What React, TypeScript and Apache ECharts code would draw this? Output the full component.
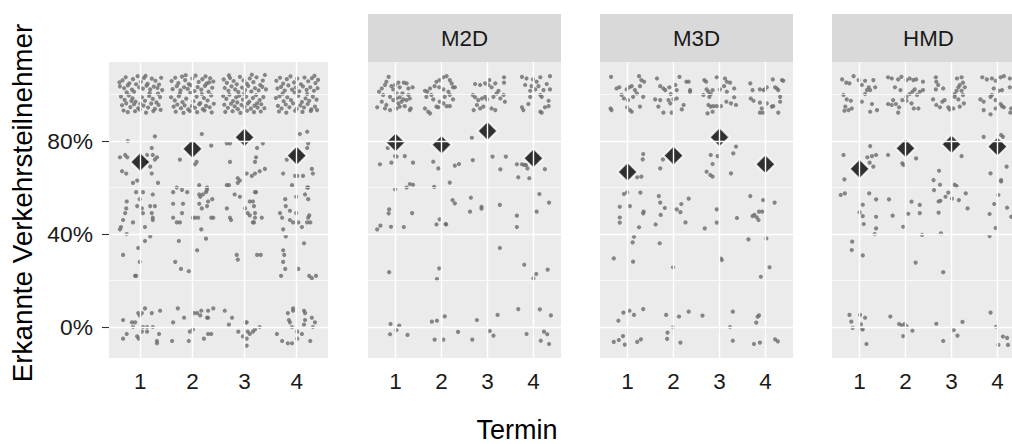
import React, { useEffect, useRef } from "react";
import * as echarts from "echarts";

// ---------- data ----------
const panelNames = ["", "M2D", "M3D", "HMD"];
const termTicks = [1, 2, 3, 4];
const yTickValues = [0, 0.4, 0.8];
const yMinorValues = [0.2, 0.6, 1.0];
const xTitle = "Termin";
const yTitle = "Erkannte Verkehrsteilnehmer";

const meansNone = [[1, 0.71], [2, 0.766], [3, 0.816], [4, 0.737]];
const meansM2D = [[1, 0.794], [2, 0.784], [3, 0.843], [4, 0.726]];
const meansM3D = [[1, 0.667], [2, 0.737], [3, 0.816], [4, 0.7]];
const meansHMD = [[1, 0.68], [2, 0.769], [3, 0.786], [4, 0.776]];

const topNone = [
  [0.66,1.061],[0.72,1.074],[0.79,1.048],[0.86,1.066],[0.95,1.079],[1.01,1.055],[1.07,1.071],[1.14,1.046],[1.22,1.068],[1.29,1.059],[1.36,1.043],[1.40,1.072],
  [0.61,1.035],[0.69,1.027],[0.76,1.039],[0.84,1.021],[0.92,1.044],[0.98,1.031],[1.05,1.025],[1.12,1.038],[1.19,1.022],[1.26,1.034],[1.33,1.028],[1.42,1.019],
  [0.63,0.991],[0.70,0.977],[0.78,0.996],[0.85,0.984],[0.91,0.969],[1.03,0.988],[1.09,0.973],[1.17,0.994],[1.24,0.981],[1.31,0.966],[1.38,0.989],
  [0.65,0.954],[0.73,0.962],[0.81,0.946],[0.88,0.958],[0.96,0.941],[1.06,0.952],[1.15,0.944],[1.21,0.961],[1.28,0.938],[1.35,0.955],
  [0.68,0.931],[0.76,0.924],[0.90,0.928],[0.99,0.935],[1.11,0.922],[1.25,0.929],[1.39,0.934],
  [0.74,1.009],[0.88,1.012],[1.18,1.006],[1.34,1.004],[0.60,1.052],[1.10,1.080],[0.83,0.972],[1.00,0.960],
  [1.60,1.058],[1.67,1.072],[1.73,1.049],[1.80,1.077],[1.86,1.062],[1.93,1.045],[2.00,1.069],[2.06,1.081],[2.12,1.054],[2.19,1.066],[2.27,1.047],[2.34,1.070],[2.40,1.056],
  [1.62,1.023],[1.70,1.036],[1.77,1.018],[1.84,1.031],[1.91,1.024],[1.97,1.040],[2.04,1.015],[2.10,1.032],[2.17,1.021],[2.24,1.037],[2.31,1.012],[2.38,1.029],
  [1.59,0.988],[1.66,0.975],[1.74,0.993],[1.81,0.967],[1.88,0.982],[2.02,0.971],[2.08,0.991],[2.15,0.963],[2.22,0.985],[2.29,0.974],[2.36,0.996],
  [1.64,0.948],[1.71,0.957],[1.78,0.941],[1.85,0.953],[1.92,0.936],[1.99,0.950],[2.05,0.943],[2.13,0.958],[2.20,0.937],[2.26,0.951],[2.33,0.945],[2.41,0.960],
  [1.68,0.926],[1.83,0.921],[1.95,0.929],[2.09,0.924],[2.23,0.932],[2.37,0.923],
  [1.76,1.004],[1.96,1.007],[2.18,1.002],[2.32,1.052],[1.87,1.083],[2.25,1.078],
  [2.60,1.065],[2.66,1.050],[2.72,1.071],[2.79,1.058],[2.85,1.044],[2.91,1.076],[2.98,1.061],[3.04,1.047],[3.10,1.069],[3.17,1.053],[3.23,1.074],[3.30,1.041],[3.39,1.084],
  [2.62,1.028],[2.69,1.016],[2.75,1.035],[2.82,1.022],[2.88,1.011],[2.95,1.030],[3.01,1.019],[3.07,1.037],[3.13,1.013],[3.20,1.027],[3.27,1.018],[3.34,1.033],[3.41,1.022],
  [2.59,0.994],[2.65,0.981],[2.71,0.999],[2.78,0.972],[2.84,0.988],[2.90,0.995],[2.97,0.978],[3.03,0.991],[3.09,0.969],[3.16,0.985],[3.22,0.997],[3.29,0.976],[3.36,0.989],
  [2.61,0.956],[2.68,0.943],[2.74,0.960],[2.81,0.949],[2.87,0.937],[2.94,0.955],[3.00,0.946],[3.06,0.961],[3.12,0.939],[3.19,0.952],[3.25,0.944],[3.32,0.958],[3.38,0.941],
  [2.63,0.925],[2.77,0.928],[2.92,0.921],[3.05,0.930],[3.18,0.924],[3.31,0.927],
  [2.70,1.082],[3.14,1.085],[2.99,1.003],[3.24,0.962],[2.86,0.966],[3.35,1.060],
  [3.61,1.059],[3.68,1.072],[3.74,1.047],[3.81,1.066],[3.88,1.078],[3.95,1.052],[4.01,1.068],[4.08,1.044],[4.15,1.073],[4.22,1.057],[4.29,1.070],[4.36,1.049],[4.41,1.063],
  [3.63,1.026],[3.70,1.033],[3.77,1.017],[3.84,1.039],[3.91,1.021],[3.98,1.030],[4.05,1.014],[4.12,1.035],[4.19,1.020],[4.26,1.031],[4.33,1.016],[4.40,1.027],
  [3.60,0.985],[3.67,0.993],[3.75,0.971],[3.82,0.988],[3.89,0.976],[4.03,0.994],[4.10,0.968],[4.17,0.983],[4.24,0.973],[4.31,0.991],[4.38,0.978],
  [3.64,0.951],[3.71,0.940],[3.79,0.957],[3.86,0.945],[3.93,0.962],[4.00,0.938],[4.07,0.953],[4.14,0.944],[4.21,0.959],[4.28,0.936],[4.35,0.948],
  [3.66,0.927],[3.80,0.922],[3.97,0.930],[4.11,0.925],[4.27,0.929],[4.39,0.933],
  [3.73,1.004],[3.96,1.008],[4.20,1.002],[4.34,1.080],
];

const restNone = [
  [0.76,0.80],[1.28,0.82],[1.22,0.77],[0.61,0.73],[0.71,0.74],[0.75,0.73],[1.13,0.74],[1.24,0.74],[1.32,0.73],[1.28,0.72],[1.15,0.71],[1.19,0.69],[0.65,0.67],[0.73,0.66],[1.22,0.66],
  [0.86,0.62],[0.94,0.63],[1.34,0.62],[0.92,0.58],[1.05,0.58],[1.24,0.57],[0.74,0.54],[0.73,0.51],[0.71,0.49],[0.94,0.52],[1.03,0.51],[1.05,0.49],[1.19,0.52],[1.28,0.52],[1.22,0.49],[1.24,0.47],[1.24,0.46],[0.99,0.55],[0.67,0.46],[0.61,0.42],[0.63,0.43],[0.86,0.45],[0.74,0.40],[1.09,0.43],[1.09,0.37],[1.19,0.39],[0.96,0.34],[0.67,0.31],[0.99,0.28],[0.90,0.22],[0.92,0.22],
  [0.67,0.03],[0.96,0.06],[0.99,0.05],[1.03,0.06],[0.84,0.02],[0.86,0.00],[1.09,0.08],[1.22,0.06],[1.05,0.00],[1.13,0.00],[1.24,0.00],[1.38,0.07],[0.67,-0.05],[0.74,-0.03],[0.94,-0.04],[0.97,-0.05],[1.03,-0.02],[1.13,-0.02],[1.32,-0.06],[1.32,-0.07],[1.36,-0.03],[0.90,0.02],
  [2.18,0.83],[2.36,0.78],[1.76,0.72],[2.08,0.71],[2.05,0.70],
  [1.63,0.58],[1.70,0.60],[1.80,0.59],[1.90,0.58],[2.13,0.61],[2.15,0.56],[2.13,0.57],[2.20,0.57],[2.28,0.59],[2.26,0.58],[2.28,0.60],[2.38,0.55],[1.63,0.53],[1.82,0.53],[2.13,0.53],[2.18,0.51],[2.30,0.54],[2.28,0.52],[1.80,0.49],[1.63,0.47],[1.70,0.45],[1.76,0.45],[2.01,0.47],[2.05,0.47],[2.11,0.47],[2.36,0.47],[2.40,0.47],[2.17,0.42],[2.26,0.38],[1.74,0.37],[2.09,0.33],[1.67,0.28],[1.78,0.25],[1.93,0.24],
  [1.72,0.08],[1.63,0.02],[1.84,0.04],[2.03,0.06],[2.09,0.06],[2.15,0.05],[2.17,0.07],[2.30,0.07],[2.40,0.08],[2.28,0.04],[2.30,0.04],[2.01,-0.01],[1.95,-0.02],[1.61,-0.06],[1.93,-0.06],[2.22,-0.05],[2.30,-0.03],[2.36,-0.03],
  [2.66,0.79],[2.72,0.79],[2.72,0.71],[3.24,0.77],[3.35,0.79],[3.22,0.73],[3.20,0.71],[3.04,0.66],[3.14,0.65],[3.20,0.66],[3.29,0.67],[3.39,0.68],[2.87,0.64],
  [2.66,0.61],[2.70,0.61],[2.87,0.62],[2.91,0.63],[2.81,0.57],[2.91,0.56],[2.66,0.51],[2.72,0.47],[2.74,0.46],[3.01,0.51],[3.06,0.49],[3.10,0.48],[3.10,0.54],[3.16,0.54],[3.20,0.58],[3.22,0.58],[3.18,0.52],[3.20,0.49],[3.20,0.47],[3.18,0.45],[3.16,0.45],[3.33,0.47],[2.85,0.31],[2.87,0.29],[3.24,0.31],[3.31,0.31],
  [2.62,0.07],[2.76,0.04],[2.70,0.01],[3.02,0.02],[3.04,0.02],[2.88,-0.02],[3.06,-0.02],[3.10,-0.03],[3.16,-0.02],[3.20,-0.01],[3.29,0.00],[2.97,-0.04],[3.04,-0.05],[3.04,-0.08],
  [4.06,0.83],[4.20,0.84],[4.20,0.77],[4.22,0.79],[3.81,0.72],[3.74,0.66],[3.97,0.65],[4.01,0.65],[4.29,0.68],[4.12,0.65],[4.31,0.66],
  [3.91,0.61],[4.20,0.60],[4.22,0.60],[3.78,0.55],[3.79,0.52],[3.99,0.56],[4.16,0.57],[4.22,0.55],[3.68,0.49],[3.87,0.50],[3.99,0.49],[3.72,0.47],[3.87,0.46],[3.93,0.45],[4.24,0.48],[4.22,0.47],[4.20,0.45],[4.26,0.45],[4.03,0.45],[4.10,0.43],[3.74,0.42],[3.79,0.39],[4.14,0.36],[3.74,0.33],[3.76,0.31],[3.74,0.28],[3.78,0.25],[3.70,0.22],[4.03,0.25],[4.24,0.22],[4.29,0.21],[4.37,0.22],
  [3.83,0.06],[3.93,0.08],[3.93,0.07],[3.85,0.03],[3.87,0.02],[4.14,0.07],[4.16,0.06],[4.16,0.03],[4.14,0.01],[4.29,0.04],[4.35,0.02],[4.31,0.00],[3.91,0.00],[4.01,-0.02],[4.10,-0.03],[3.62,-0.03],[3.72,-0.06],[3.83,-0.07],[3.91,-0.07],[4.01,-0.05],[4.26,-0.06],
];

const topM2D = [
  [0.85,1.076],[0.80,1.055],[0.77,1.041],[0.70,1.026],[0.64,1.012],[0.91,1.036],[0.99,1.041],[1.06,1.051],[1.09,1.031],[1.18,1.051],[1.24,1.048],[1.28,1.026],[1.37,1.031],
  [0.73,0.998],[0.88,0.990],[0.95,0.976],[1.02,0.983],[1.09,0.988],[1.17,0.979],[1.13,0.969],[1.06,0.962],[1.28,0.998],[1.31,0.983],[1.24,0.976],[0.70,0.969],[0.80,0.955],
  [0.60,0.945],[0.77,0.940],[0.88,0.933],[1.02,0.940],[1.09,0.948],[1.20,0.950],[1.31,0.933],[1.33,0.940],[0.95,1.022],[1.02,1.005],[1.15,1.005],
  [1.64,1.016],[1.69,1.012],[1.75,1.026],[1.85,1.036],[1.89,1.055],[1.96,1.062],[2.04,1.074],[2.11,1.079],[2.18,1.062],[2.22,1.048],[2.29,1.031],[1.95,1.031],[2.04,1.022],[2.15,1.012],
  [1.67,0.990],[1.78,0.998],[2.07,0.990],[2.18,0.998],[2.25,0.979],[1.96,0.969],[2.04,0.962],[2.11,0.950],[1.93,0.945],[1.89,0.948],[1.71,0.926],[1.75,0.919],[1.64,0.940],[2.18,0.950],[2.25,1.031],[1.82,0.979],
  [2.73,1.045],[2.84,1.041],[2.95,1.048],[3.02,1.041],[3.09,1.031],[3.17,1.048],[3.24,1.016],[3.36,1.074],[3.36,1.051],[2.68,0.998],[2.73,0.988],[2.80,0.976],[2.88,0.983],[2.95,0.990],
  [2.99,0.979],[3.13,0.990],[3.20,1.005],[3.35,0.998],[3.38,0.969],[2.77,0.955],[2.84,0.940],[2.70,0.933],[2.91,0.948],[3.09,0.940],[3.17,0.933],[3.28,0.983],[3.04,1.062],
  [3.75,1.076],[3.85,1.069],[3.99,1.065],[4.07,1.055],[4.15,1.074],[4.36,1.079],[3.82,1.041],[3.96,1.036],[4.11,1.036],[4.22,1.019],[4.29,1.045],[4.36,1.022],[3.93,1.016],
  [4.04,1.022],[3.93,0.990],[4.15,0.998],[4.18,0.990],[4.33,0.973],[3.75,0.945],[3.78,0.933],[3.89,0.959],[4.15,0.926],[4.18,0.922],[4.25,0.945],[4.33,0.950],
];

const restM2D = [
  [0.99,0.735],[1.02,0.733],[1.20,0.735],[0.66,0.70],[0.91,0.707],[1.38,0.707],[0.83,0.77],
  [1.82,0.711],[1.93,0.682],[2.29,0.694],[2.38,0.701],
  [2.66,0.814],[2.68,0.718],[3.11,0.733],[3.28,0.678],[3.40,0.733],
  [3.64,0.70],[3.75,0.70],[3.80,0.697],[3.84,0.697],[3.87,0.682],[3.67,0.644],[3.91,0.64],[4.25,0.679],
  [0.99,0.592],[1.24,0.60],[1.31,0.615],[1.38,0.612],[0.86,0.506],[0.85,0.489],[1.36,0.49],[0.60,0.42],[0.67,0.436],[0.90,0.431],[1.18,0.43],[0.86,0.236],
  [0.89,0.013],[1.08,0.006],[0.88,-0.031],[1.02,-0.013],[1.26,-0.034],
  [1.84,0.603],[2.18,0.621],[2.24,0.546],[2.29,0.532],[1.89,0.441],[1.96,0.463],[2.09,0.443],[2.10,0.441],[1.95,0.252],[1.90,0.206],
  [1.79,0.023],[1.90,0.027],[2.07,0.046],[2.36,-0.021],[1.85,-0.054],[2.04,-0.054],
  [2.64,0.556],[2.62,0.496],[2.87,0.517],[2.87,0.509],[3.27,0.525],[3.27,0.340],
  [2.77,0.030],[2.67,-0.054],[3.05,-0.017],[3.13,-0.037],[3.22,0.052],
  [4.13,0.572],[4.34,0.535],[3.64,0.479],[3.64,0.43],[4.07,0.496],[3.80,0.268],[4.06,0.228],[4.0,0.209],[4.31,0.247],
  [3.67,0.077],[4.14,0.076],[4.38,0.05],[3.85,-0.03],[4.23,-0.02],[4.30,-0.031],[4.16,-0.059],[4.34,-0.073],
];

const topM3D = [
  [0.64,1.076],[0.76,1.026],[0.82,1.031],[0.98,1.022],[1.04,1.031],[1.09,1.036],[1.16,1.019],[1.25,1.079],[1.30,1.062],[1.36,1.055],[1.27,1.036],[0.87,0.998],
  [0.92,0.983],[1.01,0.976],[1.12,0.990],[1.20,1.005],[1.34,0.990],[0.63,0.940],[0.65,0.933],[0.99,0.945],[1.05,0.933],[1.09,0.926],[1.27,0.948],
  [1.64,1.069],[1.71,1.036],[1.78,1.026],[1.82,1.019],[1.91,1.031],[1.94,1.002],[2.04,1.041],[2.13,1.076],[2.28,1.055],[2.33,1.055],[2.36,1.019],[1.60,0.979],
  [1.71,0.976],[1.67,0.948],[1.89,0.976],[2.00,0.979],[2.07,0.983],[2.18,0.936],[2.22,0.955],[1.78,0.922],[1.96,0.922],[1.93,0.962],[2.36,1.012],[2.07,1.019],
  [2.67,1.062],[2.71,1.055],[2.94,1.074],[3.12,1.069],[3.16,1.055],[3.23,1.051],[3.10,1.036],[2.72,1.022],[2.76,1.012],[2.78,0.990],[2.81,1.002],[2.85,1.019],
  [3.01,1.022],[3.16,1.012],[3.32,1.026],[2.65,0.998],[2.76,0.955],[2.81,0.948],[2.87,0.950],[2.94,0.950],[3.03,0.950],[3.15,0.969],[3.25,0.962],[3.32,0.988],
  [3.36,0.955],[2.74,0.919],[2.85,0.926],
  [3.67,1.048],[3.72,1.019],[3.88,1.022],[3.96,1.019],[3.99,1.022],[4.03,1.031],[4.16,1.065],[4.25,1.026],[4.28,1.019],[4.36,1.062],[4.39,1.059],[3.68,0.983],
  [3.74,0.973],[3.88,0.965],[4.03,0.962],[4.14,0.948],[4.17,0.950],[4.32,0.990],[4.32,0.969],[3.92,0.940],[3.88,0.922],[3.94,0.922],[4.28,0.922],[4.21,1.031],
];

const restM3D = [
  [1.34,0.744],[1.33,0.721],[1.21,0.644],[1.30,0.647],[1.77,0.721],[1.71,0.682],[2.81,0.740],[2.96,0.735],[2.85,0.701],[2.72,0.668],[2.80,0.654],[2.85,0.647],[3.36,0.776],[3.30,0.747],[3.25,0.661],
  [0.92,0.572],[0.99,0.579],[1.28,0.578],[0.83,0.517],[1.05,0.520],[0.83,0.471],[0.83,0.449],[1.25,0.429],[1.34,0.489],[1.35,0.496],[1.14,0.388],[1.11,0.364],[0.70,0.295],[1.12,0.281],
  [0.80,0.027],[0.91,0.062],[1.04,0.070],[1.14,0.052],[1.34,0.077],[0.70,-0.064],[0.81,-0.056],[0.90,-0.039],[0.94,-0.076],[1.21,-0.064],[1.29,-0.053],
  [1.68,0.563],[1.71,0.535],[1.72,0.482],[1.81,0.512],[1.61,0.441],[1.70,0.360],[2.07,0.506],[2.15,0.494],[2.17,0.529],[2.33,0.552],[2.26,0.450],[2.68,0.424],[1.99,0.257],
  [1.84,0.052],[2.12,0.045],[2.33,0.066],[2.63,0.049],[1.99,-0.001],[1.87,-0.024],[1.86,-0.051],[2.15,-0.067],
  [2.94,0.506],[2.94,0.449],[3.03,0.294],[3.05,0.288],[3.38,0.469],
  [3.29,0.066],[3.23,0.0],[3.29,-0.059],
  [3.67,0.563],[3.95,0.546],[4.20,0.535],[3.72,0.477],[3.76,0.482],[3.81,0.472],[3.85,0.46],[3.86,0.496],[3.93,0.496],[3.63,0.377],[4.02,0.381],[4.09,0.257],[3.90,0.216],
  [3.80,0.019],[3.83,0.044],[3.86,0.05],[3.75,-0.073],[3.88,-0.067],[4.21,-0.053],[4.27,-0.062],
];

const topHMD = [
  [0.62,1.065],[0.71,1.051],[0.78,1.048],[0.87,1.079],[0.98,1.062],[1.05,1.041],[1.12,1.059],[1.20,1.031],[1.23,1.019],[1.30,1.062],[1.34,1.031],[0.65,0.998],
  [0.72,0.979],[0.81,0.973],[1.05,0.969],[1.27,0.959],[1.38,0.933],[0.69,0.948],[0.76,0.933],[0.83,0.940],[0.67,0.930],[1.16,1.019],[1.12,1.002],[1.23,0.926],
  [1.62,1.074],[1.70,1.069],[1.84,1.065],[1.91,1.076],[2.02,1.062],[2.09,1.069],[2.17,1.062],[2.23,1.065],[2.38,1.055],[1.77,1.031],[1.89,1.019],[2.02,0.990],
  [2.09,1.002],[2.15,1.012],[2.20,1.022],[2.25,0.998],[2.31,1.012],[2.38,1.019],[1.93,0.976],[2.02,0.973],[2.13,0.962],[2.18,0.940],[2.28,0.940],[1.62,0.959],
  [1.70,0.955],[1.79,0.959],[1.86,0.945],[1.84,0.922],[1.73,0.976],
  [2.66,1.074],[2.67,1.055],[2.71,1.041],[2.66,1.022],[2.82,1.026],[3.12,1.069],[3.22,1.074],[3.25,1.051],[3.18,1.041],[3.15,1.031],[3.11,1.016],[3.29,1.031],
  [3.22,1.016],[3.07,1.002],[2.60,0.979],[2.67,0.955],[2.75,0.945],[2.80,0.969],[2.85,0.976],[2.93,0.945],[2.96,0.936],[3.07,0.990],[3.15,0.979],[3.25,0.998],
  [3.27,0.962],[3.18,0.948],[3.04,0.940],
  [3.67,1.074],[3.77,1.065],[3.88,1.069],[3.96,1.059],[4.07,1.074],[4.14,1.079],[4.27,1.069],[3.92,1.026],[4.03,1.016],[4.10,1.019],[3.85,0.990],[3.88,0.998],
  [3.63,0.979],[3.70,0.969],[3.96,0.976],[4.10,0.950],[4.14,0.945],[4.07,0.959],[3.96,0.940],[3.70,0.933],[3.85,0.915],[4.28,0.922],[4.30,0.940],[4.27,1.031],
];

const restHMD = [
  [0.65,0.740],[1.23,0.778],[1.17,0.730],[1.27,0.735],[1.36,0.740],[1.22,0.707],[1.30,0.690],[0.67,0.635],[1.62,0.740],[1.93,0.704],[1.96,0.697],[2.23,0.725],
  [2.73,0.672],[2.61,0.632],[3.22,0.735],[3.70,0.818],[4.08,0.826],[4.12,0.818],[4.20,0.690],[3.85,0.661],[4.08,0.632],
  [0.59,0.568],[0.68,0.575],[1.21,0.575],[1.07,0.526],[1.0,0.493],[1.07,0.477],[1.09,0.443],[1.36,0.549],[1.36,0.474],[1.36,0.424],[1.33,0.40],[0.84,0.367],[0.83,0.331],[1.07,0.308],
  [0.78,0.052],[0.82,0.023],[0.85,-0.004],[1.01,0.052],[1.03,0.012],[1.05,-0.007],[1.07,-0.01],[1.12,0.04],[1.15,-0.073],
  [1.64,0.549],[1.72,0.479],[1.95,0.431],[2.06,0.487],[2.13,0.539],[2.31,0.525],[2.31,0.49],[2.36,0.396],[2.22,0.277],
  [1.67,0.045],[1.86,0.013],[1.92,0.007],[1.98,0.013],[2.02,0.003],[1.95,-0.039],[2.15,-0.016],
  [2.62,0.589],[2.75,0.612],[2.72,0.540],[2.76,0.543],[2.87,0.560],[2.93,0.578],[3.07,0.612],[3.11,0.606],[3.01,0.552],[3.16,0.546],[3.31,0.575],[3.35,0.510],[2.72,0.492],[2.77,0.403],[2.82,0.236],
  [2.67,0.014],[2.82,-0.060],[3.05,-0.013],[3.13,-0.037],[3.24,0.022],
  [4.02,0.568],[3.93,0.529],[3.83,0.486],[4.21,0.513],[4.30,0.474],[3.96,0.426],[3.83,0.391],[4.08,0.626],
  [3.85,0.062],[3.97,0.001],[4.02,-0.077],[4.23,-0.077],[4.12,-0.041],[4.21,-0.047],
];

// ---------- chart ----------
const FONT = '"Liberation Sans", Arial, Helvetica, sans-serif';

export default function App() {
  const ref = useRef<HTMLDivElement>(null);

  useEffect(() => {
    if (!ref.current) return;
    const chart = echarts.init(ref.current, undefined, { renderer: "svg" });

    const panelObs = [
      topNone.concat(restNone),
      topM2D.concat(restM2D),
      topM3D.concat(restM3D),
      topHMD.concat(restHMD),
    ];
    const panelMeans = [meansNone, meansM2D, meansM3D, meansHMD];

    const boxes = [
      { left: 109, width: 219 },
      { left: 368, width: 193 },
      { left: 600, width: 193 },
      { left: 832, width: 193 },
    ];
    const top = 62;
    const height = 296;

    const grid = boxes.map((b) => ({
      left: b.left,
      top,
      width: b.width,
      height,
      show: true,
      backgroundColor: "#EBEBEB",
      borderWidth: 0,
    }));

    const xAxis = boxes.map((_, i) => ({
      type: "value",
      gridIndex: i,
      min: 0.4,
      max: 4.6,
      axisLine: { show: false },
      splitLine: { show: false },
      axisTick: {
        show: true,
        customValues: termTicks,
        length: 7,
        lineStyle: { color: "#333333", width: 1.1 },
      },
      axisLabel: {
        show: true,
        customValues: termTicks,
        fontSize: 22.5,
        fontFamily: FONT,
        color: "#1a1a1a",
        margin: 12,
      },
    }));

    const yAxis = boxes.map((_, i) => ({
      type: "value",
      gridIndex: i,
      min: -0.1333,
      max: 1.1398,
      axisLine: { show: false },
      splitLine: { show: false },
      axisTick: {
        show: i === 0,
        customValues: yTickValues,
        length: 7,
        lineStyle: { color: "#333333", width: 1.1 },
      },
      axisLabel: {
        show: i === 0,
        customValues: yTickValues,
        fontSize: 22.8,
        fontFamily: FONT,
        color: "#1a1a1a",
        margin: 16,
        formatter: (v: number) => Math.round(v * 100) + "%",
      },
    }));

    const major = { color: "#ffffff", width: 1.4, type: "solid" };
    const minor = { color: "#ffffff", width: 0.7, type: "solid" };

    const series: any[] = [];
    boxes.forEach((_, i) => {
      series.push({
        type: "scatter",
        xAxisIndex: i,
        yAxisIndex: i,
        data: panelMeans[i],
        symbolSize: 0,
        itemStyle: { opacity: 0 },
        silent: true,
        z: 1,
        markLine: {
          silent: true,
          symbol: ["none", "none"],
          label: { show: false },
          animation: false,
          data: [
            ...yMinorValues.map((v) => ({ yAxis: v, lineStyle: minor })),
            ...yTickValues.map((v) => ({ yAxis: v, lineStyle: major })),
            ...termTicks.map((v) => ({ xAxis: v, lineStyle: major })),
          ],
        },
      });
      series.push({
        type: "scatter",
        xAxisIndex: i,
        yAxisIndex: i,
        data: panelObs[i],
        symbol: "circle",
        symbolSize: 4.2,
        itemStyle: { color: "#6b6b6b" },
        silent: true,
        z: 2,
      });
      series.push({
        type: "scatter",
        xAxisIndex: i,
        yAxisIndex: i,
        data: panelMeans[i],
        symbol: "diamond",
        symbolSize: 20,
        itemStyle: { color: "#000000", borderColor: "#ffffff", borderWidth: 2 },
        silent: true,
        z: 3,
      });
    });

    const graphic: any[] = [];
    boxes.forEach((b, i) => {
      if (!panelNames[i]) return;
      graphic.push({
        type: "rect",
        shape: { x: b.left, y: 14, width: b.width, height: 48 },
        style: { fill: "#D9D9D9" },
        silent: true,
      });
      graphic.push({
        type: "text",
        x: b.left + b.width / 2,
        y: 38,
        style: {
          text: panelNames[i],
          fontSize: 22.3,
          fontFamily: FONT,
          fill: "#1a1a1a",
          textAlign: "center",
          textVerticalAlign: "middle",
          align: "center",
          verticalAlign: "middle",
        },
        silent: true,
      });
    });
    graphic.push({
      type: "text",
      x: 517,
      y: 430,
      style: {
        text: xTitle,
        fontSize: 27,
        fontFamily: FONT,
        fill: "#000000",
        textAlign: "center",
        textVerticalAlign: "middle",
        align: "center",
        verticalAlign: "middle",
      },
      silent: true,
    });
    graphic.push({
      type: "text",
      x: 22,
      y: 203,
      rotation: Math.PI / 2,
      style: {
        text: yTitle,
        fontSize: 27.8,
        fontFamily: FONT,
        fill: "#000000",
        textAlign: "center",
        textVerticalAlign: "middle",
        align: "center",
        verticalAlign: "middle",
      },
      silent: true,
    });

    chart.setOption({
      animation: false,
      backgroundColor: "#ffffff",
      grid,
      xAxis,
      yAxis,
      series,
      graphic,
    });

    return () => chart.dispose();
  }, []);

  return (
    <div
      style={{
        position: "absolute",
        left: 0,
        top: 0,
        width: 1012,
        height: 444,
        overflow: "hidden",
      }}
    >
      <div ref={ref} style={{ width: 1025, height: 444 }} />
    </div>
  );
}
